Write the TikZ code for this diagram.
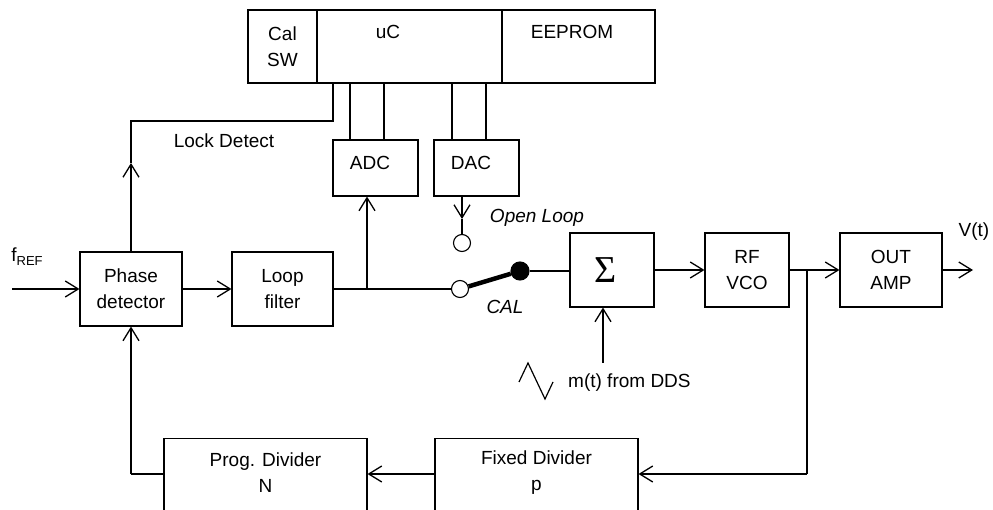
\documentclass[tikz,border=0pt]{standalone}
\usepackage{fontspec}
\setmainfont{Liberation Sans}
\newfontfamily\greekserif{Liberation Serif}
\usetikzlibrary{arrows.meta}
\begin{document}
\begin{tikzpicture}[x=1pt,y=-1pt,
  box/.style={draw, line width=1.1pt, inner sep=0pt, align=center, font=\fontsize{19}{26}\selectfont},
  txt/.style={inner sep=0pt, align=center, font=\fontsize{19}{26}\selectfont},
  itxt/.style={txt, font=\fontsize{19}{26}\selectfont\itshape},
  ln/.style={line width=1.2pt},
  arr/.style={line width=1.2pt, -{Straight Barb[length=13pt,width=16pt,line width=1.3pt]}},
  pin/.style={circle, draw, line width=1.1pt, inner sep=0pt}
]
\useasboundingbox (0,0) rectangle (993,510);
\begin{scope}
\clip (0,0) rectangle (993,510);
% top block
\node[box, minimum width=69pt, minimum height=73pt] (calsw) at (282.5,46.5) {Cal\\SW};
\node[box, minimum width=185pt, minimum height=73pt] (uc) at (409.5,46.5) {};
\node[box, minimum width=153pt, minimum height=73pt] (eeprom) at (578.5,46.5) {};
\node[txt, anchor=base] (uct) at (388,39) {uC};
\node[txt, anchor=base] (eet) at (572,39) {EEPROM};
% converters
\node[box, minimum width=85pt, minimum height=56pt] (adc) at (375.5,168) {};
\node[box, minimum width=85pt, minimum height=56pt] (dac) at (476.5,168) {};
\node[txt, anchor=base] (adct) at (370,170) {ADC};
\node[txt, anchor=base] (dact) at (471,170) {DAC};
% main chain
\node[box, minimum width=102pt, minimum height=74pt] (pd) at (131,289) {Phase\\detector};
\node[box, minimum width=101pt, minimum height=74pt] (lf) at (282.5,289) {Loop\\filter};
\node[box, minimum width=84pt, minimum height=74pt] (sum) at (612,270) {};
\node[txt, font=\fontsize{38}{38}\greekserif] (sigma) at (606,270) {Σ};
\node[box, minimum width=84pt, minimum height=74pt] (vco) at (747,270) {RF\\VCO};
\node[box, minimum width=102pt, minimum height=74pt] (amp) at (891,270) {OUT\\AMP};
% dividers
\node[box, minimum width=203pt, minimum height=100pt, anchor=north] (prog) at (265.5,438) {};
\node[box, minimum width=203pt, minimum height=100pt, anchor=north] (fixdiv) at (536.5,438) {};
\node[txt] (progt) at (265.5,473) {Prog. Divider\\N};
\node[txt] (fixt) at (536.5,473) {Fixed Divider\\p};
% switch
\node[pin, minimum size=17pt, fill=white] (swo) at (460,289) {};
\node[pin, minimum size=18pt, fill=black] (swc) at (520,271) {};
\node[pin, minimum size=17pt, fill=white] (ol) at (462,243) {};
% labels
\node[txt, anchor=base] (lock) at (224,148) {Lock Detect};
\node[txt, anchor=base] (fref) at (27,262) {f\raisebox{-0.35ex}{\fontsize{13}{13}\selectfont REF}};
\node[itxt, anchor=base] (olt) at (537,223) {Open Loop};
\node[itxt, anchor=base] (calt) at (505,314) {CAL};
\node[txt, anchor=base] (vt) at (974,237) {V(t)};
\node[txt, anchor=base west] (mt) at (568,388) {m(t) from DDS};
% coordinates
\coordinate (fin) at (12,289);
\coordinate (br) at (367,289);
\coordinate (ldmid) at (131,163);
\coordinate (ldtop) at (131,121);
\coordinate (ucl) at (333,121);
\coordinate (dacmid) at (462,219);
\coordinate (vbr) at (807,270);
\coordinate (vfb) at (807,474);
\coordinate (vout) at (973,270);
\coordinate (pfb) at (131,474);
\coordinate (modin) at (603,363);
% connectors
\draw[arr] (fin) -- (pd.west);
\draw[arr] (pd.east) -- (lf.west);
\draw[ln] (lf.east) -- (swo.west);
\draw[arr] (br) -- (br |- adc.south);
\draw[line width=4.5pt] (swo) -- (swc);
\draw[ln] (swc.east) -- (swc -| sum.west);
\draw[arr] (sum.east) -- (vco.west);
\draw[arr] (vco.east) -- (amp.west);
\draw[arr] (amp.east) -- (vout);
\draw[ln] (vbr) -- (vfb);
\draw[arr] (vfb) -- (vfb -| fixdiv.east);
\draw[arr] (vfb -| fixdiv.west) -- (vfb -| prog.east);
\draw[ln] (vfb -| prog.west) -- (pfb);
\draw[arr] (pfb) -- (pd.south);
\draw[arr] (pd.north) -- (ldmid);
\draw[ln] (ldmid) -- (ldtop) -- (ucl) -- (ucl |- uc.south);
\draw[ln] (uc.south -| 350,0) -- (adc.north -| 350,0);
\draw[ln] (uc.south -| 384,0) -- (adc.north -| 384,0);
\draw[ln] (uc.south -| 452,0) -- (dac.north -| 452,0);
\draw[ln] (uc.south -| 486,0) -- (dac.north -| 486,0);
\draw[arr] (dac.south -| ol) -- (dacmid);
\draw[ln] (dacmid) -- (ol.north);
\draw[arr] (modin) -- (modin |- sum.south);
\draw[ln] (519,382) -- (528,363) -- (545,399) -- (553,382);
\end{scope}
\end{tikzpicture}
\end{document}
